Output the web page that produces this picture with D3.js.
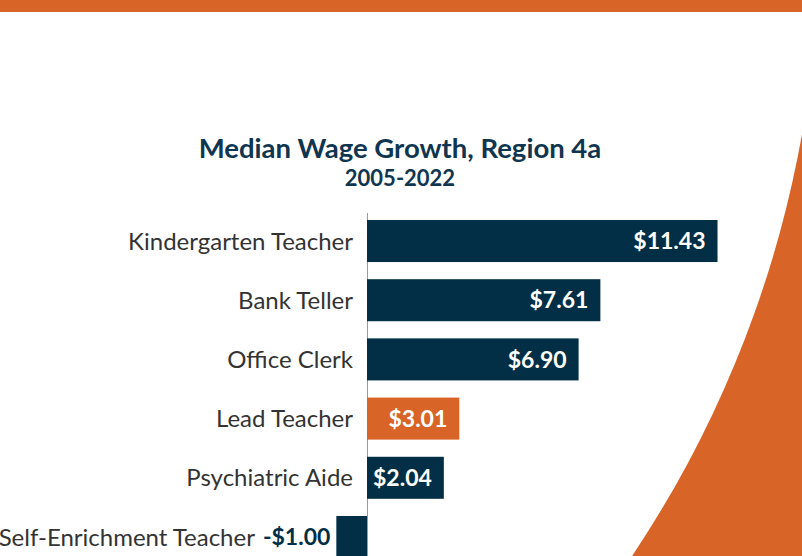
<!DOCTYPE html>
<html>
<head>
<meta charset="utf-8">
<script src="https://cdn.jsdelivr.net/npm/d3@7"></script>
<style>
    body { margin: 0; background: #fff; }
    svg { display: block; }
</style>
</head>
<body>
<div id="chart"></div>
<script>
// Data
var categories = ["Kindergarten Teacher", "Bank Teller", "Office Clerk", "Lead Teacher", "Psychiatric Aide", "Self-Enrichment Teacher"];
var wageGrowth = [11.43, 7.61, 6.90, 3.01, 2.04, -1.00];
var highlighted = ["Lead Teacher"];
var title = "Median Wage Growth, Region 4a";
var subtitle = "2005-2022";

var width = 802,
    height = 556,
    navy = "#032f46",
    orange = "#d86428";

var svg = d3.select("#chart").append("svg")
    .attr("width", width)
    .attr("height", height);

// Background decoration: orange corner with white circle cut out, and top band
svg.append("rect")
    .attr("width", width)
    .attr("height", height)
    .attr("fill", orange);
svg.append("circle")
    .attr("cx", -286)
    .attr("cy", -59)
    .attr("r", 1105)
    .attr("fill", "#fff");
svg.append("rect")
    .attr("width", width)
    .attr("height", 12)
    .attr("fill", orange);

// Titles
svg.append("text")
    .attr("x", 400)
    .attr("y", 158)
    .attr("text-anchor", "middle")
    .attr("font-family", "Lato, sans-serif")
    .attr("font-weight", 700)
    .attr("font-size", 27.5)
    .attr("fill", "#0f3550")
    .text(title);
svg.append("text")
    .attr("x", 400)
    .attr("y", 186)
    .attr("text-anchor", "middle")
    .attr("font-family", "Lato, sans-serif")
    .attr("font-weight", 700)
    .attr("font-size", 22)
    .attr("fill", "#0f3550")
    .text(subtitle);

var data = categories.map(function(c, i) {
    return {name: c, value: wageGrowth[i]};
});

var x = d3.scaleLinear()
    .domain([0, 12])
    .range([367, 735]);

var y = d3.scaleBand()
    .domain(categories)
    .range([220, 558])
    .paddingInner(0.29);

var fmt = function(v) {
    return (v < 0 ? "-$" : "$") + d3.format(".2f")(Math.abs(v));
};

// zero line
svg.append("line")
    .attr("x1", x(0) + 0.5)
    .attr("x2", x(0) + 0.5)
    .attr("y1", 213)
    .attr("y2", height)
    .attr("stroke", "#9a9a9a")
    .attr("stroke-width", 1);

var rows = svg.append("g")
    .selectAll("g")
    .data(data)
    .enter()
    .append("g")
    .attr("transform", function(d) { return "translate(0," + y(d.name) + ")"; });

rows.each(function(d) {
    var row = d3.select(this),
        h = y.bandwidth(),
        cy = h / 2;

    var bar = row.append("rect")
        .attr("y", 0)
        .attr("height", h)
        .attr("fill", highlighted.indexOf(d.name) >= 0 ? orange : navy);

    var label = row.append("text")
        .attr("y", cy)
        .attr("dy", "0.36em")
        .attr("font-family", "Lato, sans-serif")
        .attr("font-weight", 700)
        .attr("font-size", 23)
        .text(fmt(d.value));
    var lw = label.node().getComputedTextLength();

    var catEnd;
    if (d.value >= 0) {
        // keep room for the label inside short bars
        var w = Math.max(x(d.value) - x(0), lw + 18);
        bar.attr("x", x(0)).attr("width", w);
        label.attr("x", x(0) + w - 12)
            .attr("text-anchor", "end")
            .attr("fill", "#fff");
        catEnd = x(0) - 14;
    } else {
        bar.attr("x", x(d.value)).attr("width", x(0) - x(d.value));
        label.attr("x", x(d.value) - 6)
            .attr("text-anchor", "end")
            .attr("fill", navy);
        catEnd = x(d.value) - 6 - lw - 8;
    }

    row.append("text")
        .attr("x", catEnd)
        .attr("y", cy)
        .attr("dy", "0.36em")
        .attr("text-anchor", "end")
        .attr("font-family", "Lato, sans-serif")
        .attr("font-size", 24)
        .attr("fill", "#333")
        .text(d.name);
});
</script>
</body>
</html>
